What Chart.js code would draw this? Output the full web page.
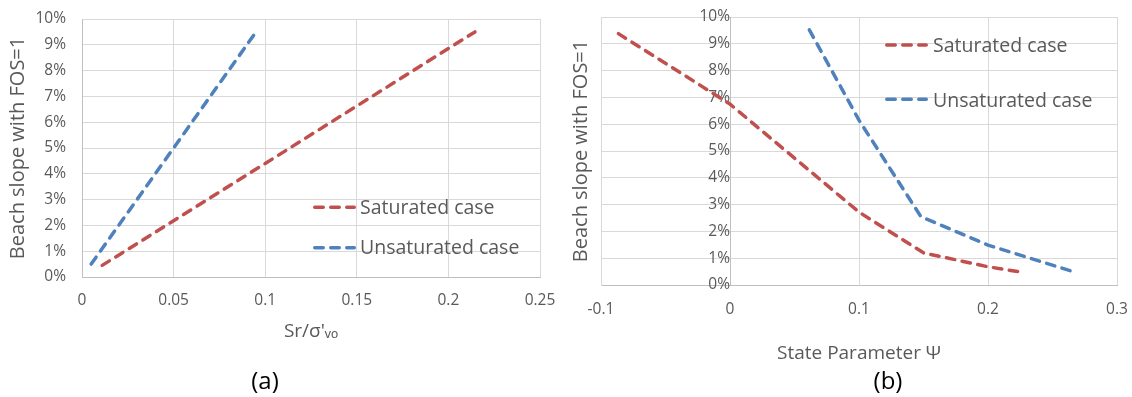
<!DOCTYPE html>
<html><head><meta charset="utf-8">
<script src="https://cdn.jsdelivr.net/npm/chart.js@4.4.1/dist/chart.umd.min.js"></script>
<style>
html,body{margin:0;padding:0;background:#fff;width:1132px;height:397px;overflow:hidden;}
.box{position:absolute;top:0;height:370px;}
#wa{left:0;width:560px;}
#wb{left:560px;width:572px;}
.lab{position:absolute;top:379px;font-family:"Open Sans",sans-serif;font-size:24px;color:#000;transform:translate(-50%,-50%);white-space:nowrap;}
</style></head><body>
<div class="box" id="wa"><canvas id="ca"></canvas></div>
<div class="box" id="wb"><canvas id="cb"></canvas></div>
<div class="lab" style="left:265px">(a)</div>
<div class="lab" style="left:888px">(b)</div>
<script>
// ---- data (y values in %) ----
const seriesNames = ["Saturated case", "Unsaturated case"];
// chart (a): x = Sr/σ'vo
const satA_x = [0.011, 0.1, 0.2145];
const satA_y = [0.45, 4.4, 9.5];
const unsatA_x = [0.005, 0.05, 0.0955];
const unsatA_y = [0.5, 5.0, 9.55];
// chart (b): x = state parameter Ψ
const satB_x = [-0.0865, 0, 0.1, 0.15, 0.2, 0.226];
const satB_y = [9.38, 6.75, 2.72, 1.2, 0.68, 0.48];
const unsatB_x = [0.0615, 0.1, 0.148, 0.2, 0.268];
const unsatB_y = [9.52, 6.15, 2.55, 1.49, 0.47];
// ticks
const xTicksA = [0, 0.05, 0.1, 0.15, 0.2, 0.25];
const xTicksB = [-0.1, 0, 0.1, 0.2, 0.3];
const yTicks = [0, 1, 2, 3, 4, 5, 6, 7, 8, 9, 10];
// texts
const yTitle = "Beach slope with FOS=1";
const xTitleA = "Sr/σ'ᵥₒ";
const xTitleB = "State Parameter Ψ";

const RED = '#C0504D', BLUE = '#4F81BD', TXT = '#595959', GRID = '#d9d9d9', AXIS = '#bfbfbf';
const FAM = '"Open Sans", sans-serif';
const tickFont = {family: FAM, size: 15.5};
const titleFont = {family: FAM, size: 19};

function pts(xs, ys) { return xs.map((x, i) => ({x: x, y: ys[i]})); }
function ds(label, xs, ys, color) {
  return {label, data: pts(xs, ys), borderColor: color, backgroundColor: color, borderWidth: 3.5,
    borderDash: [8.5, 7.5], borderCapStyle: 'round', borderJoinStyle: 'round',
    showLine: true, pointRadius: 0, pointHoverRadius: 0, tension: 0, fill: false};
}
const setTicks = arr => s => { s.ticks = arr.map(v => ({value: v})); };
const noPad = s => { s.paddingTop = 0; s.paddingBottom = 0; s.paddingLeft = 0; s.paddingRight = 0; };

const inlineLegend = {
  id: 'inlineLegend',
  afterDatasetsDraw(chart, args, o) {
    const ctx = chart.ctx;
    ctx.save();
    chart.data.datasets.forEach((d, i) => {
      ctx.strokeStyle = d.borderColor; ctx.lineWidth = d.borderWidth;
      ctx.lineCap = 'round'; ctx.setLineDash(d.borderDash);
      ctx.beginPath(); ctx.moveTo(o.x0 + 1.75, o.rows[i]); ctx.lineTo(o.x1 - 1.75, o.rows[i]); ctx.stroke();
      ctx.setLineDash([]);
      ctx.fillStyle = TXT; ctx.font = '19.5px ' + FAM; ctx.textBaseline = 'alphabetic'; ctx.textAlign = 'left';
      ctx.fillText(d.label, o.tx, o.base[i]);
    });
    ctx.restore();
  }
};

const yPct = v => v + '%';

new Chart(document.getElementById('ca'), {
  type: 'scatter',
  data: {datasets: [ds(seriesNames[0], satA_x, satA_y, RED), ds(seriesNames[1], unsatA_x, unsatA_y, BLUE)]},
  plugins: [inlineLegend],
  options: {
    responsive: true, maintainAspectRatio: false, animation: false, devicePixelRatio: 1,
    layout: {padding: {top: 19, right: 20, left: 0, bottom: 0}},
    plugins: {legend: {display: false}, tooltip: {enabled: false},
      inlineLegend: {x0: 313, x1: 356, tx: 360, rows: [207.3, 247.7], base: [214, 254]}},
    scales: {
      x: {type: 'linear', min: 0, max: 0.25, afterBuildTicks: setTicks(xTicksA),
        ticks: {callback: v => String(v), font: tickFont, color: TXT, padding: 14, maxRotation: 0, autoSkip: false},
        grid: {color: GRID, drawTicks: false}, border: {color: AXIS},
        title: {display: true, text: xTitleA, font: titleFont, color: TXT, padding: {top: 0, bottom: 27}},
        afterFit: s => { s.height = 93; noPad(s); }},
      y: {type: 'linear', min: 0, max: 10, afterBuildTicks: setTicks(yTicks),
        ticks: {callback: yPct, font: tickFont, color: TXT, padding: 16},
        grid: {color: GRID, drawTicks: false}, border: {color: AXIS},
        title: {display: true, text: yTitle, font: {family: FAM, size: 20}, color: TXT, padding: {top: 6, bottom: 0}},
        afterFit: s => { s.width = 82; noPad(s); }}
    }
  }
});

new Chart(document.getElementById('cb'), {
  type: 'scatter',
  data: {datasets: [ds(seriesNames[0], satB_x, satB_y, RED), ds(seriesNames[1], unsatB_x, unsatB_y, BLUE)]},
  plugins: [inlineLegend],
  options: {
    responsive: true, maintainAspectRatio: false, animation: false, devicePixelRatio: 1,
    layout: {padding: {top: 17, right: 15, left: 0, bottom: 0}},
    plugins: {legend: {display: false}, tooltip: {enabled: false},
      inlineLegend: {x0: 325, x1: 368, tx: 373, rows: [45, 99.3], base: [52.3, 106.7]}},
    scales: {
      x: {type: 'linear', min: -0.1, max: 0.3, afterBuildTicks: setTicks(xTicksB),
        ticks: {callback: v => String(v), font: tickFont, color: TXT, padding: 15, maxRotation: 0, autoSkip: false},
        grid: {color: GRID, drawTicks: false}, border: {color: AXIS},
        title: {display: true, text: xTitleB, font: titleFont, color: TXT, padding: {top: 0, bottom: 4.6}},
        afterFit: s => { s.height = 85; noPad(s); }},
      y: {type: 'linear', min: 0, max: 10, afterBuildTicks: setTicks(yTicks),
        ticks: {display: false},
        grid: {color: GRID, drawTicks: false}, border: {color: GRID},
        title: {display: true, text: yTitle, font: {family: FAM, size: 20}, color: TXT, padding: {top: 9.5, bottom: 0}},
        afterFit: s => { s.width = 41; noPad(s); }},
      y2: {type: 'linear', axis: 'y', position: {x: 0}, min: 0, max: 10, afterBuildTicks: setTicks(yTicks),
        ticks: {callback: yPct, font: tickFont, color: TXT, padding: 16},
        grid: {drawOnChartArea: false, drawTicks: false}, border: {color: AXIS},
        afterFit: s => { noPad(s); }}
    }
  }
});
</script>
</body></html>
